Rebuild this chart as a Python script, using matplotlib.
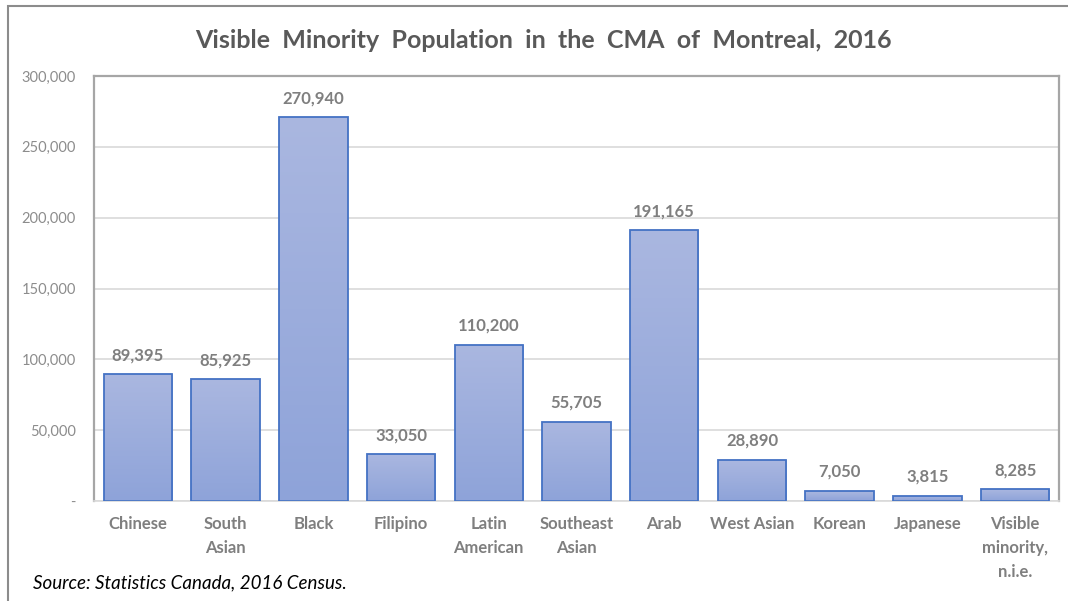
import numpy as np
import matplotlib
matplotlib.use("Agg")
import matplotlib.pyplot as plt
from matplotlib.colors import LinearSegmentedColormap
from matplotlib.patches import Rectangle

categories = ["Chinese", "South\nAsian", "Black", "Filipino", "Latin\nAmerican",
              "Southeast\nAsian", "Arab", "West Asian", "Korean", "Japanese",
              "Visible\nminority,\nn.i.e."]
values = [89395, 85925, 270940, 33050, 110200, 55705, 191165, 28890, 7050, 3815, 8285]
yticks = [0, 50000, 100000, 150000, 200000, 250000, 300000]

plt.rcParams['font.family'] = ['Lato', 'DejaVu Sans']

fig = plt.figure(figsize=(10.68, 6.01), dpi=100)
ax = fig.add_axes([94 / 1068, 1 - 501 / 601, (1059 - 94) / 1068, (501 - 76) / 601])

# outer chart border
fig.add_artist(Rectangle((8 / 1068, -0.1), 1.2, 1 - 6 / 601 + 0.1, transform=fig.transFigure,
                         fill=False, edgecolor='#8c8c8c', linewidth=1.5))

x = np.arange(len(categories))
bars = ax.bar(x, values, width=0.78, color='none', edgecolor='#4472c4', linewidth=1.3, zorder=3)

grad = LinearSegmentedColormap.from_list('g', ['#8ea3d9', '#aab7e0'])
gimg = np.linspace(0, 1, 256).reshape(-1, 1)
for b in bars:
    bx, by = b.get_x(), b.get_y()
    w, h = b.get_width(), b.get_height()
    im = ax.imshow(gimg, cmap=grad, origin='lower', aspect='auto',
                   extent=[bx, bx + w, by, by + h], zorder=2)
    im.set_clip_path(b)

for xi, v in zip(x, values):
    ax.annotate(f"{v:,}", (xi, v), xytext=(0, 8), textcoords='offset points',
                ha='center', va='bottom', fontsize=12, fontweight='bold', color='#7f7f7f')

ax.set_xlim(-0.5, len(categories) - 0.5)
ax.set_ylim(0, 300000)
ax.set_yticks(yticks)
ax.set_yticklabels(["-"] + [f"{t:,}" for t in yticks[1:]])
ax.set_xticks(x)
ax.set_xticklabels(categories, fontweight='bold', color='#7f7f7f', fontsize=12, linespacing=1.6)
ax.tick_params(axis='x', length=0, pad=11)
ax.tick_params(axis='y', length=0, pad=13, labelcolor='#8c8c8c', labelsize=10.5)
ax.yaxis.grid(True, color='#d9d9d9', linewidth=1.2, zorder=0)
ax.set_axisbelow(True)
for side in ['left', 'right', 'top']:
    ax.spines[side].set_color('#a6a6a6')
    ax.spines[side].set_linewidth(1.6)
ax.spines['bottom'].set_color('#d9d9d9')
ax.spines['bottom'].set_linewidth(1.2)

fig.text(543 / 1068, 1 - 40 / 601, "Visible  Minority  Population  in  the  CMA  of  Montreal,  2016",
         ha='center', va='center', fontsize=18, fontweight='bold', color='#595959')
fig.text(33 / 1068, 1 - 583 / 601, "Source: Statistics Canada, 2016 Census.",
         ha='left', va='center', fontsize=13.5, style='italic', color='black')

fig.savefig("out.png", dpi=100)
